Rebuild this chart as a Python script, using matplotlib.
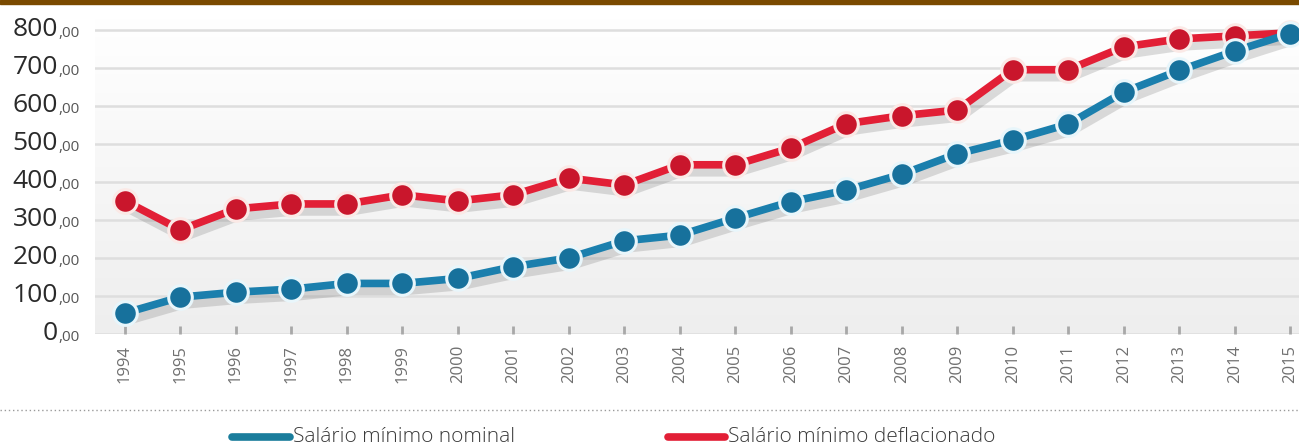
import numpy as np
import matplotlib
matplotlib.use('Agg')
import matplotlib.pyplot as plt
import matplotlib.patheffects as pe
from matplotlib.transforms import blended_transform_factory
from matplotlib.lines import Line2D

# data
anos = list(range(1994, 2016))
nominal = [55, 97, 110, 118, 133, 133, 146, 177, 200, 245, 260, 305,
           348, 378, 420, 474, 510, 552, 636, 693, 744, 790]
deflacionado = [350, 274, 329, 342, 342, 366, 350, 366, 410, 392, 445, 445,
                489, 553, 574, 589, 695, 695, 755, 776, 784, 792]
y_ticks = [0, 100, 200, 300, 400, 500, 600, 700, 800]
legenda = ['Salário mínimo nominal', 'Salário mínimo deflacionado']

azul = '#1b7fad'
azul_m = '#17719c'
vermelho = '#e21f36'
vermelho_m = '#c9162c'

plt.rcParams['font.family'] = ['Open Sans', 'DejaVu Sans']

W, H = 1299, 447
fig = plt.figure(figsize=(W / 100, H / 100), dpi=100)
fig.patch.set_facecolor('white')

# barra marrom no topo
fig.add_artist(plt.Rectangle((0, 1 - 4 / H), 1, 4 / H, transform=fig.transFigure,
                             color='#7a4a00', zorder=10))

ax_left, ax_bottom = 95 / W, 1 - 334 / H
ax = fig.add_axes([ax_left, ax_bottom, 1 - ax_left, (334 - 18) / H])
ax.set_xlim(1993.46, 2015.16)
ax.set_ylim(0, 831)

# fundo com gradiente leve
grad = np.linspace(0, 1, 256).reshape(-1, 1)
ax.imshow(grad, extent=(1993.46, 2015.16, 0, 831), aspect='auto', origin='upper',
          cmap=matplotlib.colors.LinearSegmentedColormap.from_list('g', ['#ffffff', '#eeeeee']),
          zorder=0)

for s in ax.spines.values():
    s.set_visible(False)

for yt in y_ticks:
    ax.axhline(yt, color='#dedede', lw=1.8, zorder=1)

# pequenas marcas dos anos
ax.set_xticks(anos)
ax.set_xticklabels([str(a) for a in anos], rotation=90, color='#707070', fontsize=12)
ax.tick_params(axis='x', direction='in', length=6, width=2, color='#a8a8a8', pad=8)
ax.set_yticks([])

sombra = [pe.SimpleLineShadow(offset=(2, -5), shadow_color='#666666', alpha=0.22, linewidth=7),
          pe.Normal()]

ax.plot(anos, deflacionado, color=vermelho, lw=5.5, zorder=3, path_effects=sombra,
        solid_capstyle='round')
ax.plot(anos, nominal, color=azul, lw=5.5, zorder=3, path_effects=sombra,
        solid_capstyle='round')
ax.plot(anos, deflacionado, 'o', ms=17, mfc=vermelho_m, mec='#fbe9e6', mew=2.2, zorder=4)
ax.plot(anos, nominal, 'o', ms=17, mfc=azul_m, mec='#e8f6fb', mew=2.2, zorder=4)

# rótulos do eixo y: número grande + ",00" pequeno
tr = blended_transform_factory(fig.transFigure, ax.transData)
for yt in y_ticks:
    ax.text(58 / W, yt, str(yt), transform=tr, ha='right', va='center',
            fontsize=19, color='#2a2a2a', clip_on=False)
    ax.text(58 / W, yt - 9, ',00', transform=tr, ha='left', va='center',
            fontsize=11, color='#555555', clip_on=False)

# linha pontilhada
fig.add_artist(Line2D([0, 1], [1 - 410 / H, 1 - 410 / H], transform=fig.transFigure,
                      color='#9a9a9a', lw=1, ls=(0, (1, 2))))

# legenda
ly = 1 - 437 / H
for (x0, x1), cor, txt in [((232, 290), '#1a7d9c', legenda[0]), ((668, 725), vermelho, legenda[1])]:
    fig.add_artist(Line2D([x0 / W, x1 / W], [ly, ly], transform=fig.transFigure,
                          color=cor, lw=5.5, solid_capstyle='round'))
    fig.text((x1 + 3) / W, ly, txt, ha='left', va='center', fontsize=15,
             color='#3a3a3a', fontweight='light')

fig.savefig('out.png', dpi=100)
